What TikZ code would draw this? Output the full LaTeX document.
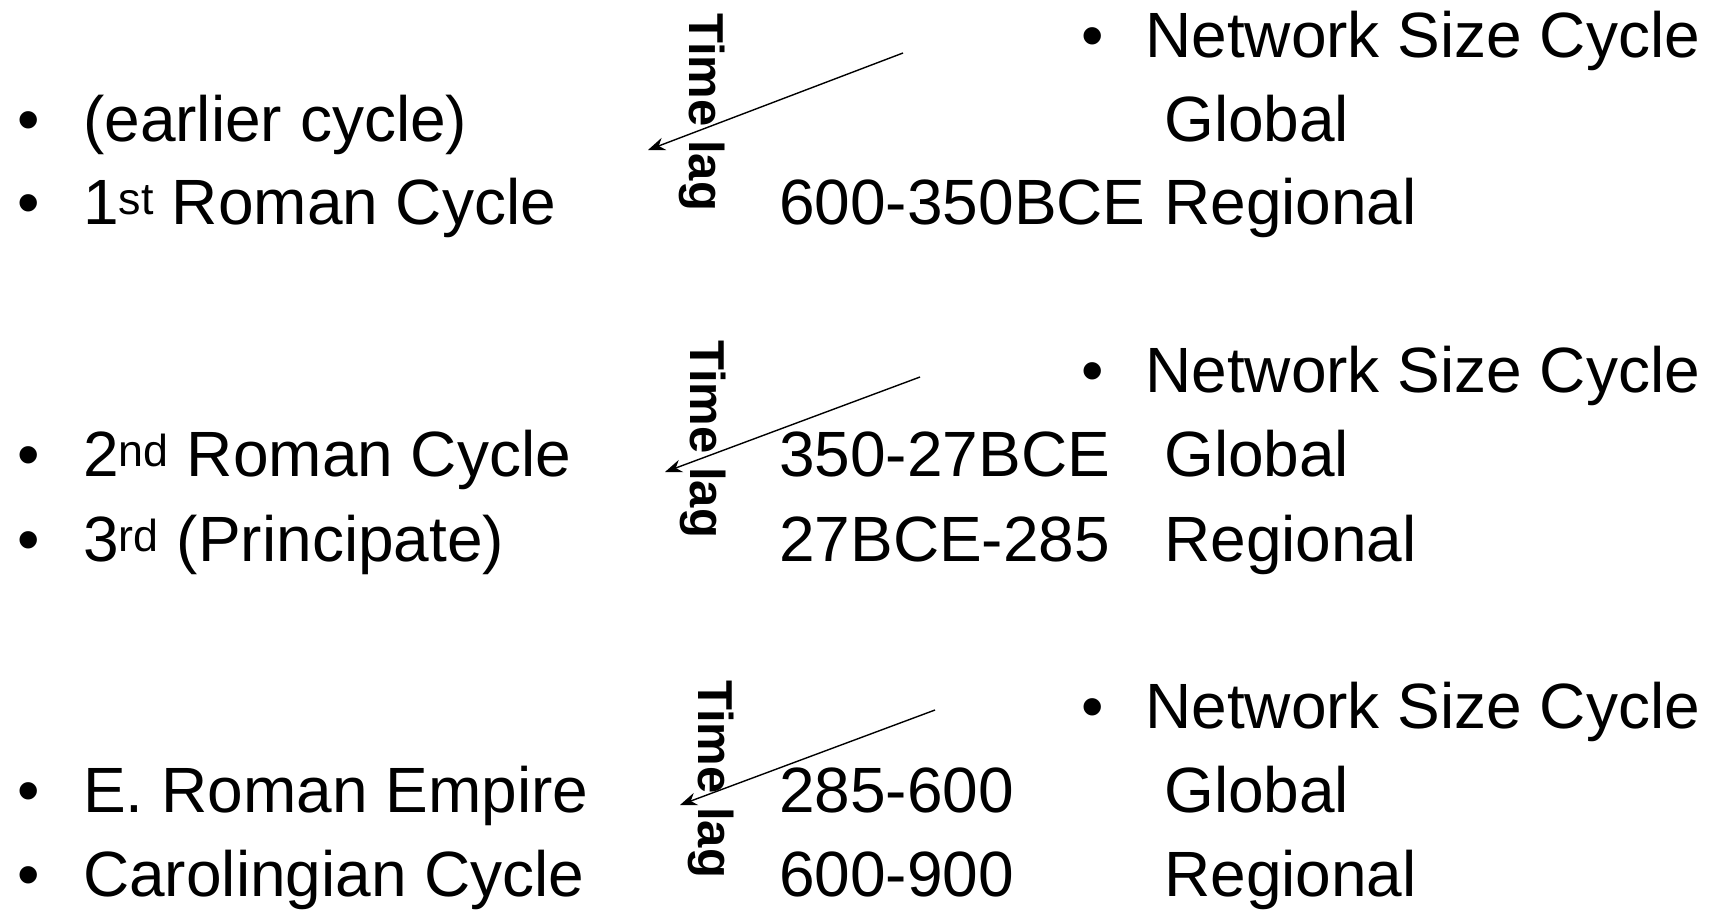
\documentclass[tikz,border=0pt]{standalone}
\usepackage{fontspec}
\setmainfont{Liberation Sans}
\usetikzlibrary{arrows.meta}
\begin{document}
\begin{tikzpicture}[x=1pt,y=-1pt,
  txt/.style={anchor=base west,inner sep=0pt,font=\fontsize{64}{76}\selectfont},
  lagtxt/.style={anchor=base west,inner sep=0pt,rotate=-90,font=\bfseries\fontsize{49}{59}\selectfont},
  lagarrow/.style={-{Stealth[length=17pt,width=13pt]},line width=1.4pt}]
\useasboundingbox (0,0) rectangle (1717,913);

% ---- block 1 ----
\node[txt] (b1r) at (1081,57) {•};
\node[txt] (n1) at (1145,57) {Network Size Cycle};
\node[txt] (b1a) at (17,141) {•};
\node[txt] (l1a) at (83,141) {(earlier cycle)};
\node[txt] (g1) at (1164,141) {Global};
\node[txt] (b1b) at (17,224) {•};
\node[txt] (l1b) at (83,224) {1\textsuperscript{st} Roman Cycle};
\node[txt] (d1) at (779,224) {600-350BCE};
\node[txt] (r1) at (1164,224) {Regional};
\node[lagtxt] (t1) at (689,13) {Time lag};
\coordinate (s1) at (903,53);
\coordinate (e1) at (648,150);
\draw[lagarrow] (s1) -- (e1);

% ---- block 2 ----
\node[txt] (b2r) at (1081,392) {•};
\node[txt] (n2) at (1145,392) {Network Size Cycle};
\node[txt] (b2a) at (17,476) {•};
\node[txt] (l2a) at (83,476) {2\textsuperscript{nd} Roman Cycle};
\node[txt] (d2a) at (779,476) {350-27BCE};
\node[txt] (g2) at (1164,476) {Global};
\node[txt] (b2b) at (17,561) {•};
\node[txt] (l2b) at (83,561) {3\textsuperscript{rd} (Principate)};
\node[txt] (d2b) at (779,561) {27BCE-285};
\node[txt] (r2) at (1164,561) {Regional};
\node[lagtxt] (t2) at (690,340) {Time lag};
\coordinate (s2) at (920,377);
\coordinate (e2) at (665,472);
\draw[lagarrow] (s2) -- (e2);

% ---- block 3 ----
\node[txt] (b3r) at (1081,728) {•};
\node[txt] (n3) at (1145,728) {Network Size Cycle};
\node[txt] (b3a) at (17,812) {•};
\node[txt] (l3a) at (83,812) {E. Roman Empire};
\node[txt] (d3a) at (779,812) {285-600};
\node[txt] (g3) at (1164,812) {Global};
\node[txt] (b3b) at (17,896) {•};
\node[txt] (l3b) at (83,896) {Carolingian Cycle};
\node[txt] (d3b) at (779,896) {600-900};
\node[txt] (r3) at (1164,896) {Regional};
\node[lagtxt] (t3) at (698,680) {Time lag};
\coordinate (s3) at (935,710);
\coordinate (e3) at (680,805);
\draw[lagarrow] (s3) -- (e3);
\end{tikzpicture}
\end{document}
